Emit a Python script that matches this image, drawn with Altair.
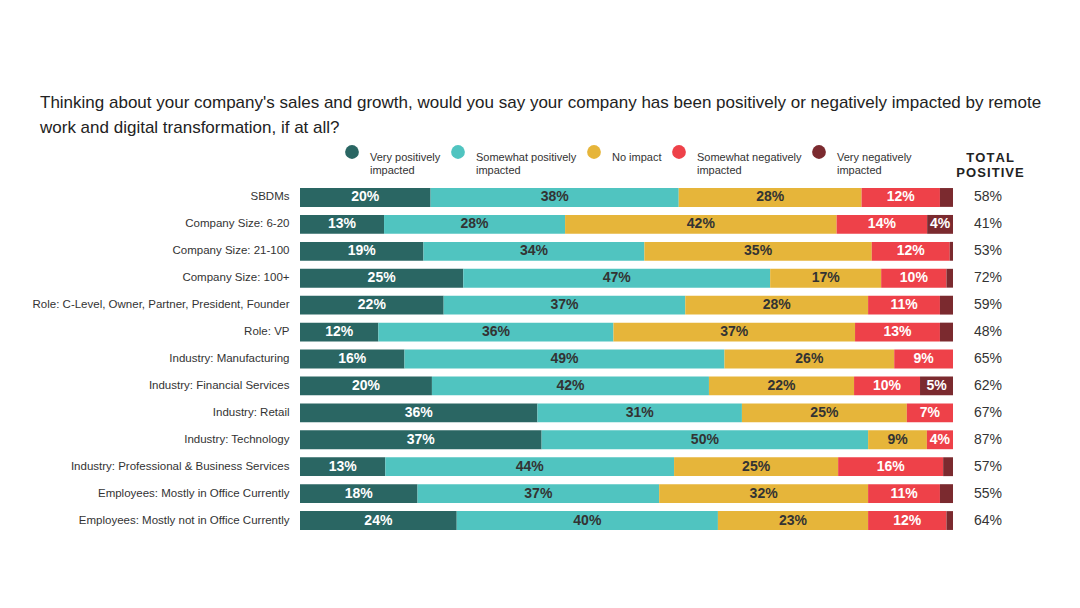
import altair as alt
import pandas as pd

categories = [
    "SBDMs",
    "Company Size: 6-20",
    "Company Size: 21-100",
    "Company Size: 100+",
    "Role: C-Level, Owner, Partner, President, Founder",
    "Role: VP",
    "Industry: Manufacturing",
    "Industry: Financial Services",
    "Industry: Retail",
    "Industry: Technology",
    "Industry: Professional & Business Services",
    "Employees: Mostly in Office Currently",
    "Employees: Mostly not in Office Currently",
]
series = ["Very positively impacted", "Somewhat positively impacted", "No impact",
          "Somewhat negatively impacted", "Very negatively impacted"]
legend_lines = {
    "Very positively impacted": ["Very positively", "impacted"],
    "Somewhat positively impacted": ["Somewhat positively", "impacted"],
    "No impact": ["No impact", " "],
    "Somewhat negatively impacted": ["Somewhat negatively", "impacted"],
    "Very negatively impacted": ["Very negatively", "impacted"],
}
very_pos = [20, 13, 19, 25, 22, 12, 16, 20, 36, 37, 13, 18, 24]
some_pos = [38, 28, 34, 47, 37, 36, 49, 42, 31, 50, 44, 37, 40]
no_impact = [28, 42, 35, 17, 28, 37, 26, 22, 25, 9, 25, 32, 23]
some_neg = [12, 14, 12, 10, 11, 13, 9, 10, 7, 4, 16, 11, 12]
very_neg = [2, 4, 0.5, 1, 2, 2, 0, 5, 0, 0, 1.5, 2, 1]
total_positive = [58, 41, 53, 72, 59, 48, 65, 62, 67, 87, 57, 55, 64]

colors = ["#2a6663", "#50c4c0", "#e6b53a", "#ee4149", "#7b2a2f"]
text_colors = ["#ffffff", "#333333", "#333333", "#ffffff", "#ffffff"]

values = [very_pos, some_pos, no_impact, some_neg, very_neg]
rows = []
for i, cat in enumerate(categories):
    vals = [v[i] for v in values]
    tot = sum(vals)
    start = 0.0
    for j, s in enumerate(series):
        share = vals[j] / tot * 100
        rows.append({
            "category": cat,
            "series": s,
            "order": j,
            "value": vals[j],
            "start": start,
            "end": start + share,
            "mid": start + share / 2,
            "label": f"{int(vals[j])}%" if vals[j] >= 3 else "",
            "tcolor": text_colors[j],
        })
        start += share
df = pd.DataFrame(rows)
tot_df = pd.DataFrame({"category": categories, "tp": [f"{t}%" for t in total_positive]})

label_expr = " : ".join(
    [f"datum.label == '{k}' ? {v!r}" for k, v in legend_lines.items()]
) + " : datum.label"

FONT = "Liberation Sans"

y_enc = alt.Y(
    "category:N",
    sort=categories,
    scale=alt.Scale(paddingInner=0.3, paddingOuter=0.15),
    axis=alt.Axis(title=None, ticks=False, domain=False, labelPadding=11,
                  labelFontSize=11.5, labelColor="#333333", labelFont=FONT, labelLimit=400),
)
x_scale = alt.Scale(domain=[0, 100])

bars = alt.Chart(df).mark_bar().encode(
    y=y_enc,
    x=alt.X("start:Q", scale=x_scale, axis=None),
    x2="end:Q",
    color=alt.Color(
        "series:N",
        scale=alt.Scale(domain=series, range=colors),
        sort=series,
        legend=alt.Legend(
            title=None, orient="none", legendX=45, legendY=-39, direction="horizontal",
            columns=5, symbolType="circle", symbolSize=190, symbolStrokeWidth=0,
            labelFontSize=11, labelFont=FONT, labelColor="#333333", labelBaseline="top",
            labelOffset=11, columnPadding=10, labelLimit=300, labelExpr=label_expr,
        ),
    ),
)

labels = alt.Chart(df).mark_text(fontSize=14, fontWeight="bold", font=FONT).encode(
    y=alt.Y("category:N", sort=categories),
    x=alt.X("mid:Q", scale=x_scale),
    text="label:N",
    color=alt.Color("tcolor:N", scale=None),
)

totals = alt.Chart(tot_df).mark_text(fontSize=14, font=FONT, color="#333333").encode(
    y=alt.Y("category:N", sort=categories),
    x=alt.value(688),
    text="tp:N",
)

header = alt.Chart(pd.DataFrame({"h": [0]})).mark_text(
    fontSize=13, fontWeight="bold", font=FONT, color="#222222", lineHeight=15, baseline="middle"
).encode(
    x=alt.value(690),
    y=alt.value(-26),
    text=alt.value(["T\u200aO\u200aT\u200aA\u200aL", "P\u200aO\u200aS\u200aI\u200aT\u200aI\u200aV\u200aE"]),
)

chart = alt.layer(bars, labels, totals, header).properties(
    width=653,
    height=350,
    title=alt.Title(
        text=["Thinking about your company's sales and growth, would you say your company has been positively or negatively impacted by remote",
              "work and digital transformation, if at all?"],
        anchor="start", frame="group", dx=-260, offset=8, fontSize=17, font=FONT,
        fontWeight="normal", color="#222222", lineHeight=25,
    ),
    autosize=alt.AutoSizeParams(type="none"),
    padding={"left": 292, "top": 176, "right": 119, "bottom": 44},
).configure(background="white", view=alt.ViewConfig(stroke=None))

chart.save("out.html", embed_options={"renderer": "svg", "actions": False})
